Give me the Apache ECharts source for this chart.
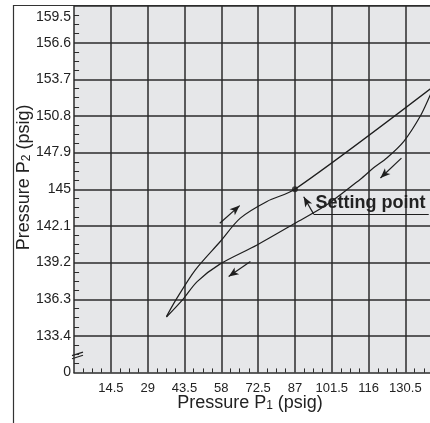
<!DOCTYPE html>
<html>
<head>
<meta charset="utf-8">
<script src="https://cdn.jsdelivr.net/npm/echarts/dist/echarts.min.js"></script>
<style>
  html, body { margin: 0; padding: 0; background: #fff; }
  #mainChart { width: 430px; height: 423px; }
</style>
</head>
<body>
<div id="mainChart"></div>
<script>
// tick values and labels
var xTicks = [0, 14.5, 29, 43.5, 58, 72.5, 87, 101.5, 116, 130.5, 145, 159.5];
var xTickLabels = ['', '14.5', '29', '43.5', '58', '72.5', '87', '101.5', '116', '130.5', '145', '159.5'];
var yTicks = [130.5, 133.4, 136.3, 139.2, 142.1, 145, 147.9, 150.8, 153.7, 156.6, 159.5];
var yTickLabels = ['0', '133.4', '136.3', '139.2', '142.1', '145', '147.9', '150.8', '153.7', '156.6', '159.5'];

// P1 rising (upper branch)
var risingCurve = [[36.4, 134.93], [40.3, 136.31], [47.8, 138.63], [57.6, 140.87], [65.5, 142.72],
    [76, 144.04], [87, 145], [142, 153.2]];
// P1 falling (lower branch)
var fallingCurve = [[142, 153.2], [140.4, 152.5], [136.4, 150.8], [129.9, 148.8], [123.3, 147.5],
    [118, 146.7], [112.8, 145.8], [99.7, 143.8], [86.9, 142.3], [72.1, 140.6], [57.6, 139.1],
    [48.5, 137.7], [42.9, 136.3], [36.4, 134.9]];

var settingPoint = [87, 145];
// arrows: [tail, head]
var arrows = [
    [[57.4, 142.32], [65.25, 143.71]],
    [[69.46, 139.28], [60.91, 138.1]],
    [[128.96, 147.47], [120.68, 145.89]],
    [[94.4, 143.04], [90.46, 144.41]]
];
var underline = [[94.4, 143.04], [139.7, 143.04]];
var labelAnchor = [95.1, 143.93];

var FONT = '"Liberation Sans", Arial, Helvetica, sans-serif';
var INK = '#2b2b2b';

var myChart = echarts.init(document.getElementById('mainChart'));

function pickLabel(ticks, labels, v) {
    for (var i = 0; i < ticks.length; i++) {
        if (Math.abs(ticks[i] - v) < 0.01) return labels[i];
    }
    return '';
}

// grid lines + small inside ticks, all in data coords
var gridLines = [];
var xMin = xTicks[0], yMin = yTicks[0];
xTicks.forEach(function (v, i) {
    if (i > 0) gridLines.push([{ coord: [v, yMin] }, { coord: [v, yTicks[yTicks.length - 1]] }]);
    if (i < xTicks.length - 1) {
        var step = (xTicks[i + 1] - v) / 4;
        for (var k = 1; k < 4; k++) {
            gridLines.push([{ coord: [v + k * step, yMin] }, { coord: [v + k * step, yMin + 0.33], lineStyle: { width: 1 } }]);
        }
    }
});
yTicks.forEach(function (v, i) {
    if (i > 0) gridLines.push([{ coord: [xMin, v] }, { coord: [xTicks[xTicks.length - 1], v] }]);
    if (i < yTicks.length - 1) {
        var step = (yTicks[i + 1] - v) / 4;
        for (var k = 1; k < 4; k++) {
            gridLines.push([{ coord: [xMin, v + k * step] }, { coord: [xMin + 2.0, v + k * step], lineStyle: { width: 1 } }]);
        }
    }
});

var markLines = arrows.map(function (a) {
    return [
        { coord: a[0], symbol: 'none' },
        { coord: a[1], symbol: 'arrow', symbolSize: [6, 10] }
    ];
});
markLines.push([
    { coord: underline[0], symbol: 'none' },
    { coord: underline[1], symbol: 'none' }
]);

var nameRich = {
    a: { fontFamily: FONT, fontSize: 18, color: '#222' },
    s: { fontFamily: FONT, fontSize: 12, color: '#222', padding: [6, 0, 0, 0] }
};

var option = {
    animation: false,
    grid: {
        left: 74,
        top: 6,
        width: 405,
        height: 366.6,
        show: true,
        backgroundColor: '#e6e7e9',
        borderWidth: 0,
        containLabel: false,
        outerBoundsMode: 'none'
    },
    xAxis: {
        type: 'value',
        min: 0,
        max: 159.5,
        interval: 14.5,
        axisLine: { lineStyle: { color: INK, width: 1.5 } },
        axisTick: { show: false },
        splitLine: { show: false },
        axisLabel: {
            formatter: function (v) { return pickLabel(xTicks, xTickLabels, v); },
            fontFamily: FONT,
            fontSize: 13,
            color: '#222',
            margin: 9
        },
        name: '{a|Pressure P}{s|1}{a| (psig)}',
        nameLocation: 'middle',
        nameGap: 21,
        nameMoveOverlap: false,
        nameTextStyle: { padding: [0, 53, 0, 0], rich: nameRich }
    },
    yAxis: {
        type: 'value',
        min: 130.5,
        max: 159.5,
        interval: 2.9,
        axisLine: { lineStyle: { color: INK, width: 1.5 } },
        axisTick: { show: false },
        splitLine: { show: false },
        axisLabel: {
            formatter: function (v) {
                var s = pickLabel(yTicks, yTickLabels, v);
                return Math.abs(v - 159.5) < 0.01 ? '{t|' + s + '}' : s;
            },
            fontFamily: FONT,
            fontSize: 14,
            color: '#222',
            margin: 3,
            rich: {
                t: { fontFamily: FONT, fontSize: 14, color: '#222', padding: [22, 0, 0, 0] }
            }
        },
        name: '{a|Pressure P}{s|2}{a| (psig)}',
        nameLocation: 'middle',
        nameGap: 41,
        nameMoveOverlap: false,
        nameTextStyle: { padding: [0, 0, 0, 24], rich: nameRich }
    },
    series: [{
        name: 'grid',
        type: 'line',
        data: [[xMin, yMin]],
        showSymbol: false,
        silent: true,
        lineStyle: { width: 0 },
        markLine: {
            silent: true,
            animation: false,
            z: 1,
            symbol: ['none', 'none'],
            label: { show: false },
            lineStyle: { color: INK, width: 1.5, type: 'solid' },
            data: gridLines
        }
    }, {
        name: 'rising',
        type: 'line',
        data: risingCurve,
        smooth: 0.3,
        showSymbol: false,
        z: 3,
        lineStyle: { color: '#1e1e1e', width: 1.2 }
    }, {
        name: 'falling',
        type: 'line',
        data: fallingCurve,
        smooth: 0.3,
        showSymbol: false,
        z: 3,
        lineStyle: { color: '#1e1e1e', width: 1.2 }
    }, {
        name: 'setting',
        type: 'scatter',
        data: [settingPoint],
        symbolSize: 6,
        z: 4,
        itemStyle: { color: '#1e1e1e' },
        markLine: {
            silent: true,
            animation: false,
            label: { show: false },
            lineStyle: { color: '#1e1e1e', width: 1.2, type: 'solid' },
            data: markLines
        },
        markPoint: {
            silent: true,
            data: [{
                coord: labelAnchor,
                symbol: 'circle',
                symbolSize: 0,
                label: {
                    show: true,
                    position: 'right',
                    distance: 0,
                    formatter: 'Setting point',
                    fontFamily: FONT,
                    fontWeight: 'bold',
                    fontSize: 18,
                    color: '#222'
                }
            }]
        }
    }]
};

myChart.setOption(option);

// outer frame and axis break marks
var b1 = myChart.convertToPixel({ gridIndex: 0 }, [0, 132.0]);
var b2 = myChart.convertToPixel({ gridIndex: 0 }, [0, 131.75]);
myChart.setOption({
    graphic: [
        { type: 'line', shape: { x1: 13.5, y1: 5, x2: 13.5, y2: 423 }, style: { stroke: '#333', lineWidth: 1.2 } },
        { type: 'line', shape: { x1: 13, y1: 5.5, x2: 430, y2: 5.5 }, style: { stroke: '#333', lineWidth: 1.2 } },
        { type: 'line', shape: { x1: b1[0] - 2, y1: b1[1] + 2, x2: b1[0] + 9, y2: b1[1] - 1.5 }, style: { stroke: '#222', lineWidth: 1.2 } },
        { type: 'line', shape: { x1: b2[0] - 2, y1: b2[1] + 2, x2: b2[0] + 9, y2: b2[1] - 1.5 }, style: { stroke: '#222', lineWidth: 1.2 } }
    ]
});
</script>
</body>
</html>
